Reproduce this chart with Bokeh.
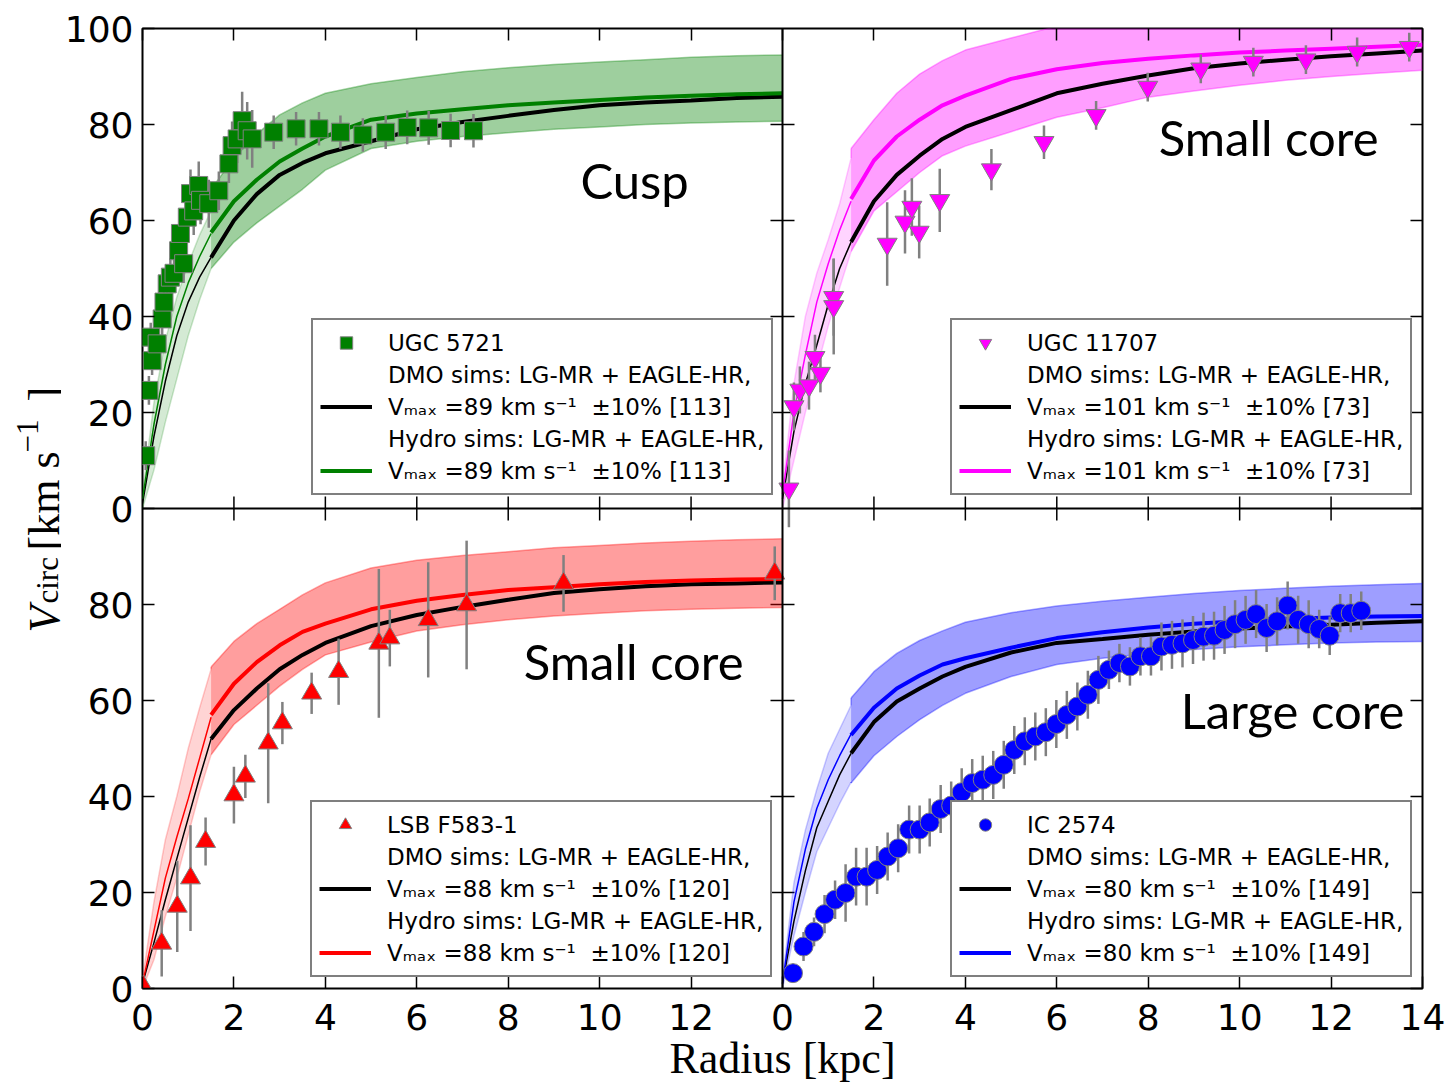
import numpy as np
from bokeh.plotting import figure
from bokeh.layouts import row
from bokeh.models import (Range1d, LinearAxis, FixedTicker, Legend, LegendItem,
                          Label, Span, CustomJSTickFormatter)
from bokeh.embed import file_html
from bokeh.resources import INLINE
from bokeh.core.properties import value

# ---------------- tick values (per panel) ----------------
x_ticks = [0, 2, 4, 6, 8, 10, 12, 14]
y_ticks = [0, 20, 40, 60, 80, 100]

# radii of the simulation curves (inner = below convergence radius)
r_inner = [0, 0.25, 0.5, 0.75, 1.0, 1.25, 1.5]
r_outer = [1.5, 2, 2.5, 3, 3.5, 4, 5, 6, 7, 8, 9, 10, 11, 12, 13, 14]

# ---------------- UGC 5721 (top left, cusp) ----------------
ugc5721_r = [0.07, 0.14, 0.18, 0.21, 0.32, 0.43, 0.47, 0.54, 0.61, 0.69, 0.79, 0.83,
             0.90, 0.98, 1.05, 1.12, 1.23, 1.27, 1.45, 1.67, 1.89, 1.96, 2.07, 2.18,
             2.29, 2.40, 2.87, 3.36, 3.86, 4.33, 4.82, 5.32, 5.79, 6.26, 6.74, 7.24]
ugc5721_v = [11, 24.6, 35.7, 30.8, 34.3, 39.5, 43, 46.8, 48.2, 49, 53.7, 57.3,
             51, 60.7, 65.6, 62, 67.3, 64.2, 63.5, 66.2, 71.8, 75.6, 77, 80.8,
             78.7, 77, 78.4, 79.1, 79.1, 78.4, 77.8, 78.4, 79.4, 79.3, 78.75, 78.7]
ugc5721_e = [3, 3, 3, 3, 3.5, 4, 4, 4, 4, 4, 4, 4,
             4, 5, 5, 5, 5, 5, 5, 4, 4, 5, 5, 6,
             6, 6, 3.5, 3.5, 3.5, 3.5, 3.5, 3.5, 3.5, 3.5, 3.5, 3.5]
ugc5721_dmo_in = [1, 15, 26.5, 36, 43, 48.2, 52.3]
ugc5721_dmo_out = [52.3, 60, 65.5, 69.5, 72, 74, 76.5, 79, 80.5, 81.8, 83, 84, 84.6, 85, 85.5, 85.8]
ugc5721_hyd_in = [2, 17.5, 30, 40, 47, 52.5, 57.3]
ugc5721_hyd_out = [57.5, 64, 68.5, 72.3, 75, 77.5, 81, 82.3, 83.2, 84, 84.6, 85.1, 85.6, 86, 86.3, 86.5]
ugc5721_hi_in = [3, 22, 35, 44, 51, 57, 62]
ugc5721_lo_in = [0, 8, 18, 27, 36, 43.5, 50]
ugc5721_hi_out = [66.5, 73, 78, 82, 84.5, 86.5, 88.5, 89.8, 91, 91.8, 92.5, 93, 93.5, 94, 94.3, 94.5]
ugc5721_lo_out = [50, 55.5, 59.5, 63, 66.5, 70.5, 75, 76.5, 77.5, 78.3, 79, 79.5, 80, 80.3, 80.5, 80.7]

# ---------------- UGC 11707 (top right, small core) ----------------
ugc11707_r = [0.14, 0.25, 0.38, 0.58, 0.71, 0.83, 1.12, 1.12, 2.29, 2.68, 2.83,
              2.99, 3.44, 4.57, 5.72, 6.86, 7.99, 9.15, 10.3, 11.45, 12.57, 13.71]
ugc11707_v = [4.1, 21.25, 24.7, 25.6, 31.5, 28.2, 44.0, 42.1, 55.1, 59.7, 62.8,
              57.6, 64.2, 70.6, 76.3, 81.9, 87.8, 91.6, 93.0, 93.5, 95.1, 96.1]
ugc11707_e = [8, 5, 4.9, 5, 4.7, 4, 8, 10, 8.7, 6.6, 6,
              5.5, 6.6, 4.3, 3.5, 3, 3, 3, 3, 3, 3, 3]
ugc11707_dmo_in = [2, 16, 26, 34, 42.5, 50, 55.5]
ugc11707_dmo_out = [55.5, 64, 69.5, 73.5, 77, 79.5, 83, 86.5, 88.5, 90.2, 91.7, 92.7, 93.5, 94.2, 94.8, 95.4]
ugc11707_hyd_in = [3, 20, 32, 43, 51, 58, 64]
ugc11707_hyd_out = [64.5, 72.5, 77.5, 81, 84, 86, 89.5, 91.5, 92.8, 93.7, 94.4, 95, 95.4, 95.8, 96.2, 96.6]
ugc11707_hi_in = [4, 26, 40, 49, 56, 63.5, 73]
ugc11707_lo_in = [0, 10, 20, 29, 38, 46, 53.5]
ugc11707_hi_out = [75, 81, 86.5, 90.5, 93.3, 95.5, 98, 100.5, 101.5, 102, 102.5, 103, 103, 103.5, 103.5, 104]
ugc11707_lo_out = [53.5, 62, 66, 70, 73.5, 75.5, 78.5, 81.5, 83.5, 85.7, 87, 88.2, 89.2, 90, 90.7, 91.3]

# ---------------- LSB F583-1 (bottom left, small core) ----------------
f583_r = [0.02, 0.42, 0.76, 1.05, 1.38, 2.0, 2.25, 2.75, 3.06, 3.7, 4.29,
          5.17, 5.41, 6.25, 7.09, 9.21, 13.83]
f583_v = [0.4, 9.4, 17.1, 23, 30.6, 40.3, 44.2, 51.1, 55.3, 61.5, 66,
          71.9, 73, 76.8, 79.9, 84.4, 86.5]
f583_e = [2, 6.9, 9.5, 11, 5, 5.9, 4.5, 12.5, 4.4, 4.3, 6.9,
          15.5, 5.9, 12, 13.4, 5.9, 5.6]
f583_dmo_in = [1, 9.5, 18.5, 27, 35.5, 44, 52]
f583_dmo_out = [52, 58, 62.5, 66.5, 69.5, 72, 75.5, 77.8, 79.5, 81, 82.4, 83.2, 83.8, 84.2, 84.4, 84.6]
f583_hyd_in = [1, 12, 23, 31.5, 39.5, 48, 56.5]
f583_hyd_out = [57, 63.5, 68, 71.5, 74.3, 76, 79, 80.8, 82, 83, 83.6, 84.2, 84.7, 85, 85.2, 85.3]
f583_hi_in = [2, 18, 31, 40, 50, 58.5, 66.5]
f583_lo_in = [0, 6, 15, 23, 32, 41, 48.7]
f583_hi_out = [67, 72.3, 76, 79, 82, 84.5, 87.6, 89.2, 90.2, 91, 91.8, 92.3, 92.8, 93.2, 93.5, 93.7]
f583_lo_out = [48.7, 55, 59, 63, 66.5, 69.5, 72.2, 74.5, 75.8, 76.8, 77.6, 78.2, 78.7, 79, 79.2, 79.4]

# ---------------- IC 2574 (bottom right, large core) ----------------
ic2574_r = [0.23, 0.46, 0.69, 0.92, 1.15, 1.38, 1.61, 1.84, 2.07, 2.30, 2.53, 2.77,
            3.00, 3.22, 3.46, 3.69, 3.92, 4.15, 4.38, 4.61, 4.84, 5.07, 5.30, 5.53,
            5.76, 5.99, 6.22, 6.45, 6.68, 6.91, 7.14, 7.37, 7.60, 7.83, 8.06, 8.29,
            8.52, 8.75, 8.98, 9.21, 9.44, 9.67, 9.90, 10.13, 10.36, 10.59, 10.82,
            11.05, 11.28, 11.51, 11.74, 11.97, 12.20, 12.43, 12.66]
ic2574_v = [3.2, 8.75, 11.8, 15.5, 18.5, 19.9, 23.3, 23.3, 24.7, 27.5, 29.2, 33.1,
            33.1, 34.6, 37.4, 38.1, 40.9, 42.8, 43.5, 44.5, 46.6, 49.7, 51.5, 52.5,
            53.4, 55.1, 57, 58.75, 61.2, 64.3, 66.4, 67.8, 67.1, 69.2, 69.2, 71.25,
            71.6, 71.9, 72.6, 73.3, 73.5, 74.7, 75.9, 76.8, 78, 75.1, 76.5,
            79.8, 76.8, 75.9, 74.9, 73.5, 78.2, 78.2, 78.7]
ic2574_e = [2, 3, 3, 4, 4, 6, 6, 6, 5, 5, 5, 5,
            5, 5, 5, 5, 5, 5, 5, 5, 5, 5, 5, 5,
            5, 5, 5, 5, 5, 5, 4, 4, 4, 4, 4, 5,
            5, 5, 5, 5, 5, 5, 5, 5, 5, 5, 5,
            5, 5, 5, 4, 4, 4, 4, 4]
ic2574_dmo_in = [1, 14, 24.5, 33.5, 39, 44.5, 49]
ic2574_dmo_out = [49, 55.5, 59.8, 62.5, 65, 67, 70, 72, 72.8, 73.7, 74.4, 75, 75.4, 75.8, 76.2, 76.5]
ic2574_hyd_in = [1, 18, 29, 37.5, 43.5, 48.5, 53]
ic2574_hyd_out = [52.8, 58.5, 62.5, 65.2, 67.5, 68.8, 71, 73, 74.2, 75.2, 76, 76.5, 77, 77.3, 77.5, 77.6]
ic2574_hi_in = [2, 22, 33, 41.5, 49, 54, 59]
ic2574_lo_in = [0, 11, 20, 28.5, 33.5, 38.5, 43]
ic2574_hi_out = [60.5, 66, 69.8, 72.5, 74.5, 76.3, 78.3, 79.7, 80.7, 81.5, 82.3, 82.9, 83.4, 83.8, 84.1, 84.4]
ic2574_lo_out = [42.8, 48.5, 52.5, 56, 59, 61.5, 65, 67.5, 68.8, 69.8, 70.6, 71.2, 71.6, 72, 72.2, 72.3]

# ---------------- main figure: one frame holding the 2x2 panels ----------------
YLAB_W = 61          # width of the strip that holds the vertical axis title
TOP, BOTTOM = 28, 101
FW, FH = 1280, 960
PX_X = FW / 28.0     # pixels per kpc
PX_Y = FH / 200.0    # pixels per km/s

p = figure(frame_width=FW, frame_height=FH,
           min_border_left=142 - YLAB_W, min_border_right=32, min_border_top=TOP, min_border_bottom=BOTTOM,
           x_range=Range1d(0, 28), y_range=Range1d(0, 200),
           x_axis_location=None, y_axis_location=None,
           output_backend="svg", toolbar_location=None)
p.extra_x_ranges = {"right": Range1d(-14, 14)}
p.extra_y_ranges = {"top": Range1d(-100, 100)}
p.outline_line_color = "black"
p.outline_line_width = 2
p.outline_line_alpha = 1
p.background_fill_color = "white"
p.border_fill_color = "white"
for g in p.grid:
    g.visible = False

all_x = sorted(set(x_ticks + [t + 14 for t in x_ticks]))
all_y = sorted(set(y_ticks + [t + 100 for t in y_ticks]))

def style_axis(ax):
    ax.axis_line_color = None
    ax.major_tick_in = 12
    ax.major_tick_out = 0
    ax.minor_tick_in = 0
    ax.minor_tick_out = 0
    ax.major_tick_line_width = 1.5
    ax.major_tick_line_color = "black"

bx = LinearAxis(ticker=FixedTicker(ticks=all_x))
style_axis(bx)
ovx = {t: str(t) for t in x_ticks if t < 14}
ovx.update({t + 14: str(t) for t in x_ticks})
bx.major_label_overrides = ovx
bx.major_label_text_font = "DejaVu Sans"
bx.major_label_text_font_size = "36px"
bx.major_label_text_color = "black"
bx.major_label_standoff = 15
bx.axis_label = "Radius [kpc]"
bx.axis_label_text_font = "Liberation Serif"
bx.axis_label_text_font_style = "normal"
bx.axis_label_text_font_size = "44px"
bx.axis_label_text_color = "black"
bx.axis_label_standoff = 1
p.add_layout(bx, "below")

ly = LinearAxis(ticker=FixedTicker(ticks=all_y))
style_axis(ly)
ovy = {t: str(t) for t in y_ticks if t < 100}
ovy.update({t + 100: str(t) for t in y_ticks})
ly.major_label_overrides = ovy
ly.major_label_text_font = "DejaVu Sans"
ly.major_label_text_font_size = "36px"
ly.major_label_text_color = "black"
ly.major_label_standoff = 9
p.add_layout(ly, "left")

for loc, tk in (("above", all_x), ("right", all_y)):
    ax = LinearAxis(ticker=FixedTicker(ticks=tk),
                    formatter=CustomJSTickFormatter(code="return ''"))
    style_axis(ax)
    ax.major_label_text_font_size = "0px"
    ax.major_label_standoff = 0
    p.add_layout(ax, loc)

# panel dividers with inward ticks on both sides
p.add_layout(Span(location=14, dimension="height", line_color="black", line_width=2))
p.add_layout(Span(location=100, dimension="width", line_color="black", line_width=2))
tdx = 12 / PX_X
tdy = 12 / PX_Y
vy = [t for t in all_y if t not in (0, 100, 200)]
hx = [t for t in all_x if t not in (0, 14, 28)]
p.segment(x0=[14 - tdx] * len(vy), y0=vy, x1=[14 + tdx] * len(vy), y1=vy,
          line_color="black", line_width=1.5)
p.segment(x0=hx, y0=[100 - tdy] * len(hx), x1=hx, y1=[100 + tdy] * len(hx),
          line_color="black", line_width=1.5)

panels = [
    dict(name="UGC 5721", xr="default", yr="top", color="#008000", marker="square", size=18,
         r=ugc5721_r, v=ugc5721_v, e=ugc5721_e,
         dmo_in=ugc5721_dmo_in, dmo_out=ugc5721_dmo_out, hyd_in=ugc5721_hyd_in, hyd_out=ugc5721_hyd_out,
         hi_in=ugc5721_hi_in, lo_in=ugc5721_lo_in, hi_out=ugc5721_hi_out, lo_out=ugc5721_lo_out,
         vmax="89", n="113", tag="Cusp", tx=9.58, ty=68.5, loc=(169, 493)),
    dict(name="UGC 11707", xr="right", yr="top", color="#ff00ff", marker="inverted_triangle", size=20,
         r=ugc11707_r, v=ugc11707_v, e=ugc11707_e,
         dmo_in=ugc11707_dmo_in, dmo_out=ugc11707_dmo_out, hyd_in=ugc11707_hyd_in, hyd_out=ugc11707_hyd_out,
         hi_in=ugc11707_hi_in, lo_in=ugc11707_lo_in, hi_out=ugc11707_hi_out, lo_out=ugc11707_lo_out,
         vmax="101", n="73", tag="Small core", tx=8.23, ty=77.3, loc=(808, 493)),
    dict(name="LSB F583-1", xr="default", yr="default", color="#ff0000", marker="triangle", size=20,
         r=f583_r, v=f583_v, e=f583_e,
         dmo_in=f583_dmo_in, dmo_out=f583_dmo_out, hyd_in=f583_hyd_in, hyd_out=f583_hyd_out,
         hi_in=f583_hi_in, lo_in=f583_lo_in, hi_out=f583_hi_out, lo_out=f583_lo_out,
         vmax="88", n="120", tag="Small core", tx=8.34, ty=68.3, loc=(168, 11)),
    dict(name="IC 2574", xr="right", yr="default", color="#0000ff", marker="circle", size=19,
         r=ic2574_r, v=ic2574_v, e=ic2574_e,
         dmo_in=ic2574_dmo_in, dmo_out=ic2574_dmo_out, hyd_in=ic2574_hyd_in, hyd_out=ic2574_hyd_out,
         hi_in=ic2574_hi_in, lo_in=ic2574_lo_in, hi_out=ic2574_hi_out, lo_out=ic2574_lo_out,
         vmax="80", n="149", tag="Large core", tx=8.71, ty=58.0, loc=(808, 11)),
]

for pan in panels:
    kw = dict(x_range_name=pan["xr"], y_range_name=pan["yr"])
    c = pan["color"]
    # light band inside convergence radius, darker band outside
    p.varea(x=r_inner, y1=pan["lo_in"], y2=pan["hi_in"], fill_color=c, fill_alpha=0.17, **kw)
    p.varea(x=r_outer, y1=pan["lo_out"], y2=pan["hi_out"], fill_color=c, fill_alpha=0.38, **kw)
    for ys, xs, a in ((pan["hi_in"], r_inner, 0.2), (pan["lo_in"], r_inner, 0.2),
                      (pan["hi_out"], r_outer, 0.35), (pan["lo_out"], r_outer, 0.35)):
        p.line(xs, ys, line_color=c, line_alpha=a, line_width=1.5, **kw)
    p.segment(x0=[r_outer[0]] * 2, y0=[pan["lo_out"][0], pan["hi_in"][-1]],
              x1=[r_outer[0]] * 2, y1=[pan["lo_in"][-1], pan["hi_out"][0]],
              line_color=c, line_alpha=0.35, line_width=1.5, **kw)
    p.line(r_inner, pan["dmo_in"], line_color="black", line_width=1.5, **kw)
    p.line(r_inner, pan["hyd_in"], line_color=c, line_width=1.5, **kw)
    dmo_r = p.line(r_outer, pan["dmo_out"], line_color="black", line_width=4, **kw)
    hyd_r = p.line(r_outer, pan["hyd_out"], line_color=c, line_width=4, **kw)
    r = np.array(pan["r"], dtype=float)
    v = np.array(pan["v"], dtype=float)
    e = np.array(pan["e"], dtype=float)
    p.segment(x0=r, y0=v - e, x1=r, y1=v + e, line_color="#808080", line_width=2.5, **kw)
    sc = p.scatter(r, v, marker=pan["marker"], size=pan["size"], fill_color=c,
                   line_color="#808080", line_width=1, **kw)
    # an empty, invisible renderer used as the handle of text-only legend rows
    blank = p.line(x=[], y=[], line_alpha=0, **kw)

    vline = "V\u2098\u2090\u2093 =" + pan["vmax"] + " km s\u207b\u00b9  \u00b110% [" + pan["n"] + "]"
    leg = Legend(items=[
        LegendItem(label=value(pan["name"]), renderers=[sc]),
        LegendItem(label=value("DMO sims: LG-MR + EAGLE-HR,"), renderers=[blank]),
        LegendItem(label=value(vline), renderers=[dmo_r]),
        LegendItem(label=value("Hydro sims: LG-MR + EAGLE-HR,"), renderers=[blank]),
        LegendItem(label=value(vline), renderers=[hyd_r]),
    ], location=pan["loc"])
    leg.label_text_font = "DejaVu Sans"
    leg.label_text_font_size = "23px"
    leg.label_text_color = "black"
    leg.glyph_width = 52
    leg.glyph_height = 31
    leg.label_height = 31
    leg.label_standoff = 16
    leg.padding = 7
    leg.spacing = 1
    leg.margin = 0
    leg.border_line_color = "black"
    leg.border_line_width = 2
    leg.background_fill_color = "white"
    leg.background_fill_alpha = 1
    p.add_layout(leg)

    p.add_layout(Label(x=pan["tx"], y=pan["ty"], text=pan["tag"], text_font="Lato",
                       text_font_size="49px", text_color="black", text_align="left",
                       text_baseline="alphabetic", **kw))

# ---------------- strip holding the vertical axis title ----------------
# its frame is aligned with the main frame (page y 28..988); data units = pixels
yl = figure(frame_width=YLAB_W, frame_height=FH,
            min_border_left=0, min_border_right=0, min_border_top=TOP, min_border_bottom=BOTTOM,
            x_range=Range1d(0, YLAB_W), y_range=Range1d(0, FH),
            x_axis_location=None, y_axis_location=None,
            output_backend="svg", toolbar_location=None)
yl.outline_line_color = None
yl.background_fill_color = "white"
yl.border_fill_color = "white"
for g in yl.grid:
    g.visible = False

# pieces of  V_circ [km s^-1]  : (text, style, size, anchor x, start y) in strip pixels
ylab_parts = [
    ("V", "italic", "44px", 44, 632),
    ("circ", "normal", "31px", 47, 603),
    ("[km s", "normal", "44px", 44, 550),
    ("\u22121", "normal", "31px", 27, 452),
    ("]", "normal", "44px", 44, 401),
]
for txt, style, size, bx_px, by_px in ylab_parts:
    yl.add_layout(Label(x=bx_px, y=TOP + FH - by_px, text=txt,
                        angle=np.pi / 2, angle_units="rad",
                        text_font="Liberation Serif", text_font_style=style,
                        text_font_size=size, text_color="black", text_align="left",
                        text_baseline="alphabetic"))

layout = row(yl, p, spacing=0)
open("out.html", "w").write(file_html(layout, INLINE))
